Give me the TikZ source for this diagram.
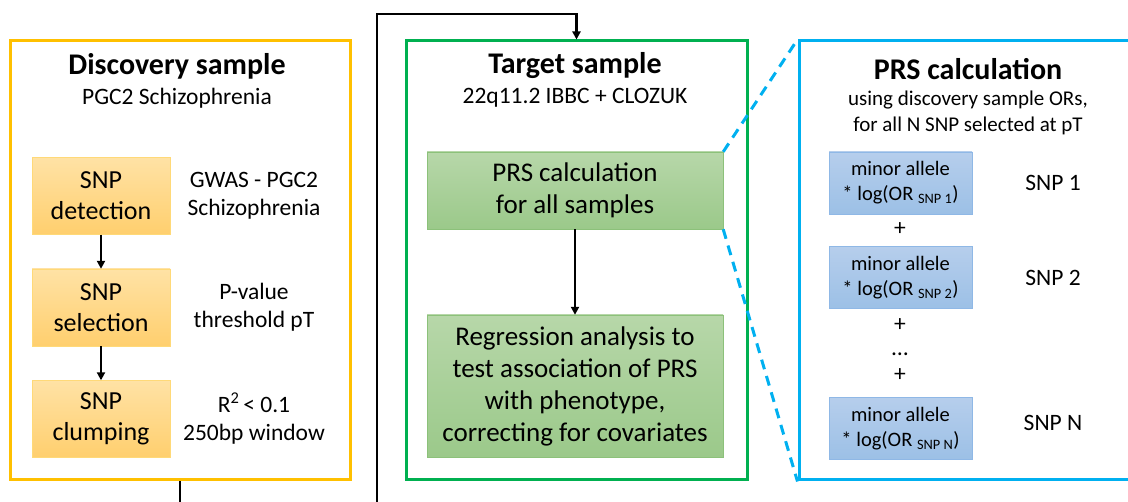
\documentclass[tikz,border=0pt]{standalone}
\usepackage{fontspec}
\setmainfont{Carlito}
\usetikzlibrary{arrows.meta,positioning}
\definecolor{cDisc}{RGB}{255,192,0}
\definecolor{cTarg}{RGB}{0,176,80}
\definecolor{cPrs}{RGB}{0,176,240}
\definecolor{cOrgT}{RGB}{255,226,165}
\definecolor{cOrgB}{RGB}{255,207,110}
\definecolor{cOrgE}{RGB}{255,217,120}
\definecolor{cGrnT}{RGB}{183,215,169}
\definecolor{cGrnB}{RGB}{155,201,138}
\definecolor{cGrnE}{RGB}{140,193,122}
\definecolor{cBluT}{RGB}{182,206,236}
\definecolor{cBluB}{RGB}{156,192,230}
\definecolor{cBluE}{RGB}{143,184,230}

\begin{document}
\begin{tikzpicture}[x=1pt,y=-1pt,
   fr/.style={draw,line width=3pt,minimum height=439pt,inner sep=0pt},
   ttl/.style={font=\fontsize{30}{34}\selectfont\bfseries,inner sep=0pt},
   sub/.style={font=\fontsize{23.5}{28}\selectfont,align=center,inner sep=0pt},
   ob/.style={draw=cOrgE,top color=cOrgT,bottom color=cOrgB,minimum width=138pt,minimum height=77pt,
              align=center,inner sep=0pt,font=\fontsize{26}{31}\selectfont},
   gb/.style={draw=cGrnE,top color=cGrnT,bottom color=cGrnB,minimum width=296pt,
              align=center,inner sep=0pt,font=\fontsize{27}{32}\selectfont},
   bb/.style={draw=cBluE,top color=cBluT,bottom color=cBluB,minimum width=143pt,minimum height=62pt,
              align=center,inner sep=0pt,font=\fontsize{20.5}{25}\selectfont},
   pl/.style={font=\fontsize{23.5}{28}\selectfont,inner sep=0pt},
   plus/.style={pl,text height=0.62em,text depth=0pt},
   arr/.style={-{Triangle[length=8pt,width=8pt]},line width=2.8pt},
   zoomln/.style={cPrs,line width=3pt,dash pattern=on 10pt off 7pt}]
  \clip (0,0) rectangle (1128,502);
  \useasboundingbox (0,0) rectangle (1128,502);

  % frames
  \node[fr,draw=cDisc,minimum width=340pt] (disc) at (180,260.5) {};
  \node[fr,draw=cTarg,minimum width=341pt] (targ) at (576.5,260.5) {};
  \node[fr,draw=cPrs,minimum width=361pt]  (prs)  at (979.5,260.5) {};

  % discovery sample
  \node[ttl] (dtit) at (177,66) {Discovery sample};
  \node[sub] (dsub) at (177,98) {PGC2 Schizophrenia};
  \node[ob] (det) at (101,196)   {SNP\\detection};
  \node[ob] (sel) at (101,307.5) {SNP\\selection};
  \node[ob] (clu) at (101,419)   {SNP\\clumping};
  \node[sub] (ldet) at (254,196)   {GWAS - PGC2\\Schizophrenia};
  \node[sub] (lsel) at (254,307.5) {P-value\\threshold pT};
  \node[sub] (lclu) at (254,419)   {R\textsuperscript{2}\,< 0.1\\250bp window};
  \draw[arr] (det) -- (sel);
  \draw[arr] (sel) -- (clu);

  % target sample
  \node[ttl] (ttit) at (575,66) {Target sample};
  \node[sub] (tsub) at (575,98) {22q11.2 IBBC + CLOZUK};
  \node[gb,minimum height=77pt]  (calc) at (575,190.5) {PRS calculation\\for all samples};
  \node[gb,minimum height=142pt] (reg)  at (575,386)   {Regression analysis to\\test association of PRS\\with phenotype,\\correcting for covariates};
  \draw[arr] (calc) -- (reg);

  % PRS calculation
  \node[ttl] (ptit) at (968,69) {PRS calculation};
  \node[sub,font=\fontsize{21}{26}\selectfont] (psub) at (968,113) {using discovery sample ORs,\\for all N SNP selected at pT};
  \node[bb] (s1) at (900.5,183)   {minor allele\\* log(OR \textsubscript{SNP 1})};
  \node[bb] (s2) at (900.5,277.5) {minor allele\\* log(OR \textsubscript{SNP 2})};
  \node[bb] (sn) at (900.5,428.5) {minor allele\\* log(OR \textsubscript{SNP N})};
  \node[plus] (p1) at (900,232) {+};
  \node[plus] (p2) at (900,328) {+};
  \node[pl,text height=0.12em,text depth=0pt] (dd) at (900,355) {…};
  \node[plus] (p3) at (900,378) {+};
  \node[pl] (l1) at (1053,183)   {SNP 1};
  \node[pl] (l2) at (1053,277.5) {SNP 2};
  \node[pl] (ln) at (1053,423)   {SNP N};

  % zoom lines and loop
  \draw[zoomln] (calc.north east) -- (prs.north west);
  \draw[zoomln] (calc.south east) -- (prs.south west);
  \coordinate (loopB) at (377,530);
  \coordinate (loopT) at (377,14);
  \draw[arr] (disc.south) |- (loopB) -- (loopT) -| (targ.north);
\end{tikzpicture}
\end{document}
